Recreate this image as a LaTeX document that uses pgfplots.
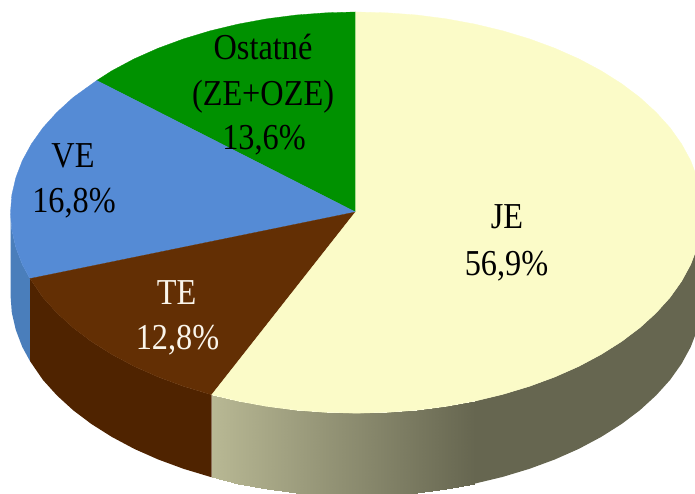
\documentclass[border=0pt]{standalone}
\usepackage{fontspec}
\setmainfont{Liberation Serif}
\usepackage{pgfplots}
\pgfplotsset{compat=1.18}
\usepgfplotslibrary{patchplots}
\definecolor{jeTop}{RGB}{251,251,200}
\definecolor{jeDark}{RGB}{102,102,80}
\definecolor{teTop}{RGB}{99,47,4}
\definecolor{teSide}{RGB}{79,35,0}
\definecolor{veTop}{RGB}{85,139,213}
\definecolor{veSide}{RGB}{74,126,187}
\definecolor{osTop}{RGB}{0,145,0}
\definecolor{teText}{RGB}{250,245,235}
\newcommand{\lab}[4][black]{\node[anchor=base,text=#1,inner sep=0pt,font=\fontsize{36.5}{46}\selectfont] at (axis cs:#2,#3) {\scalebox{0.885}[1]{#4}};}
\begin{document}
\begin{tikzpicture}
\path[use as bounding box] (0,0) rectangle (695pt,494pt);
\begin{axis}[
  at={(0,0)}, anchor=south west,
  scale only axis, width=695pt, height=494pt,
  xmin=0, xmax=695, ymin=0, ymax=494, y dir=reverse,
  axis lines=none, clip=true,
  point meta min=0, point meta max=1,
  colormap={jeside}{rgb255=(184,184,148) rgb255=(102,102,80)},
]
% VE side
\addplot[fill=veSide, draw=none] coordinates {
 (30,278.6) (22.3,264.5) (15.8,247.4) (11.8,230.1) (10.5,212.6)
 (10.5,295.1) (11.8,312.6) (15.8,329.9) (22.3,347.0) (30,361.1)} -- cycle;
% TE side
\addplot[fill=teSide, draw=none] coordinates {
 (211.7,394.8) (183.5,386.3) (158.0,376.9) (134.1,366.3) (111.8,354.4) (91.4,341.5)
 (73.1,327.7) (56.9,312.9) (42.9,297.4) (30,278.6)
 (30,361.1) (42.9,379.9) (56.9,395.4) (73.1,410.2) (91.4,424.0) (111.8,436.9)
 (134.1,448.8) (158.0,459.4) (183.5,468.8) (211.7,477.3)} -- cycle;
% JE side, dark part
\addplot[fill=jeDark, draw=none] coordinates {
 (702.5,212.6) (701.2,230.1) (697.2,247.4) (690.7,264.5) (681.6,281.2) (670.1,297.4)
 (656.1,312.9) (639.9,327.7) (621.6,341.5) (601.2,354.4) (578.9,366.3) (555.0,376.9)
 (529.5,386.3) (502.7,394.4) (474.8,401.1)
 (474.8,483.6) (502.7,476.9) (529.5,468.8) (555.0,459.4) (578.9,448.8) (601.2,436.9)
 (621.6,424.0) (639.9,410.2) (656.1,395.4) (670.1,379.9) (681.6,363.7) (690.7,347.0)
 (697.2,329.9) (701.2,312.6) (702.5,295.1)} -- cycle;
% JE side, shaded part
\addplot[patch, patch type=rectangle, shader=interp, point meta=explicit] table[x=x,y=y,meta=c] {
x y c
211.7 394.8 0
238.2 401.1 0.10
238.2 483.6 0.10
211.7 477.3 0
238.2 401.1 0.10
266.9 406.4 0.21
266.9 488.9 0.21
238.2 483.6 0.10
266.9 406.4 0.21
296.4 410.2 0.32
296.4 492.7 0.32
266.9 488.9 0.21
296.4 410.2 0.32
326.3 412.4 0.435
326.3 494.9 0.435
296.4 492.7 0.32
326.3 412.4 0.435
356.5 413.2 0.55
356.5 495.7 0.55
326.3 494.9 0.435
356.5 413.2 0.55
386.7 412.4 0.665
386.7 494.9 0.665
356.5 495.7 0.55
386.7 412.4 0.665
416.6 410.2 0.78
416.6 492.7 0.78
386.7 494.9 0.665
416.6 410.2 0.78
446.1 406.4 0.89
446.1 488.9 0.89
416.6 492.7 0.78
446.1 406.4 0.89
474.8 401.1 1
474.8 483.6 1
446.1 488.9 0.89
};
% Ostatne top: 13.6 %
\addplot[fill=osTop, draw=osTop, line width=0.3pt] coordinates {
 (355.5,212) (96.7,80.5) (111.8,70.8) (134.1,58.9) (158.0,48.3) (183.5,38.9) (210.3,30.8)
 (238.2,24.1) (266.9,18.8) (296.4,15.0) (326.3,12.8) (355.5,12.0)} -- cycle;
% VE top: 16.8 %
\addplot[fill=veTop, draw=veTop, line width=0.3pt] coordinates {
 (355.5,212) (30,278.6) (22.3,264.5) (15.8,247.4) (11.8,230.1) (10.5,212.6) (11.8,195.1)
 (15.8,177.8) (22.3,160.7) (31.4,144.0) (42.9,127.8) (56.9,112.3) (73.1,97.5) (96.7,80.5)} -- cycle;
% TE top: 12.8 %
\addplot[fill=teTop, draw=teTop, line width=0.3pt] coordinates {
 (355.5,212) (211.7,394.8) (183.5,386.3) (158.0,376.9) (134.1,366.3) (111.8,354.4) (91.4,341.5)
 (73.1,327.7) (56.9,312.9) (42.9,297.4) (30,278.6)} -- cycle;
% JE top: 56.9 %
\addplot[fill=jeTop, draw=jeTop, line width=0.3pt] coordinates {
 (355.5,212) (355.5,12.0) (386.7,12.8) (416.6,15.0) (446.1,18.8) (474.8,24.1) (502.7,30.8)
 (529.5,38.9) (555.0,48.3) (578.9,58.9) (601.2,70.8) (621.6,83.7) (639.9,97.5) (656.1,112.3)
 (670.1,127.8) (681.6,144.0) (690.7,160.7) (697.2,177.8) (701.2,195.1) (702.5,212.6)
 (701.2,230.1) (697.2,247.4) (690.7,264.5) (681.6,281.2) (670.1,297.4) (656.1,312.9)
 (639.9,327.7) (621.6,341.5) (601.2,354.4) (578.9,366.3) (555.0,376.9) (529.5,386.3)
 (502.7,394.4) (474.8,401.1) (446.1,406.4) (416.6,410.2) (386.7,412.4) (356.5,413.2)
 (326.3,412.4) (296.4,410.2) (266.9,406.4) (238.2,401.1) (211.7,394.8)} -- cycle;
\lab{507}{229}{JE}
\lab{506.5}{275}{56,9\%}
\lab[teText]{176.5}{304}{TE}
\lab[teText]{177.5}{349}{12,8\%}
\lab{73}{168}{VE}
\lab{74}{213}{16,8\%}
\lab{263}{60}{Ostatné}
\lab{263}{106}{(ZE+OZE)}
\lab{264}{150}{13,6\%}
\end{axis}
\end{tikzpicture}
\end{document}
